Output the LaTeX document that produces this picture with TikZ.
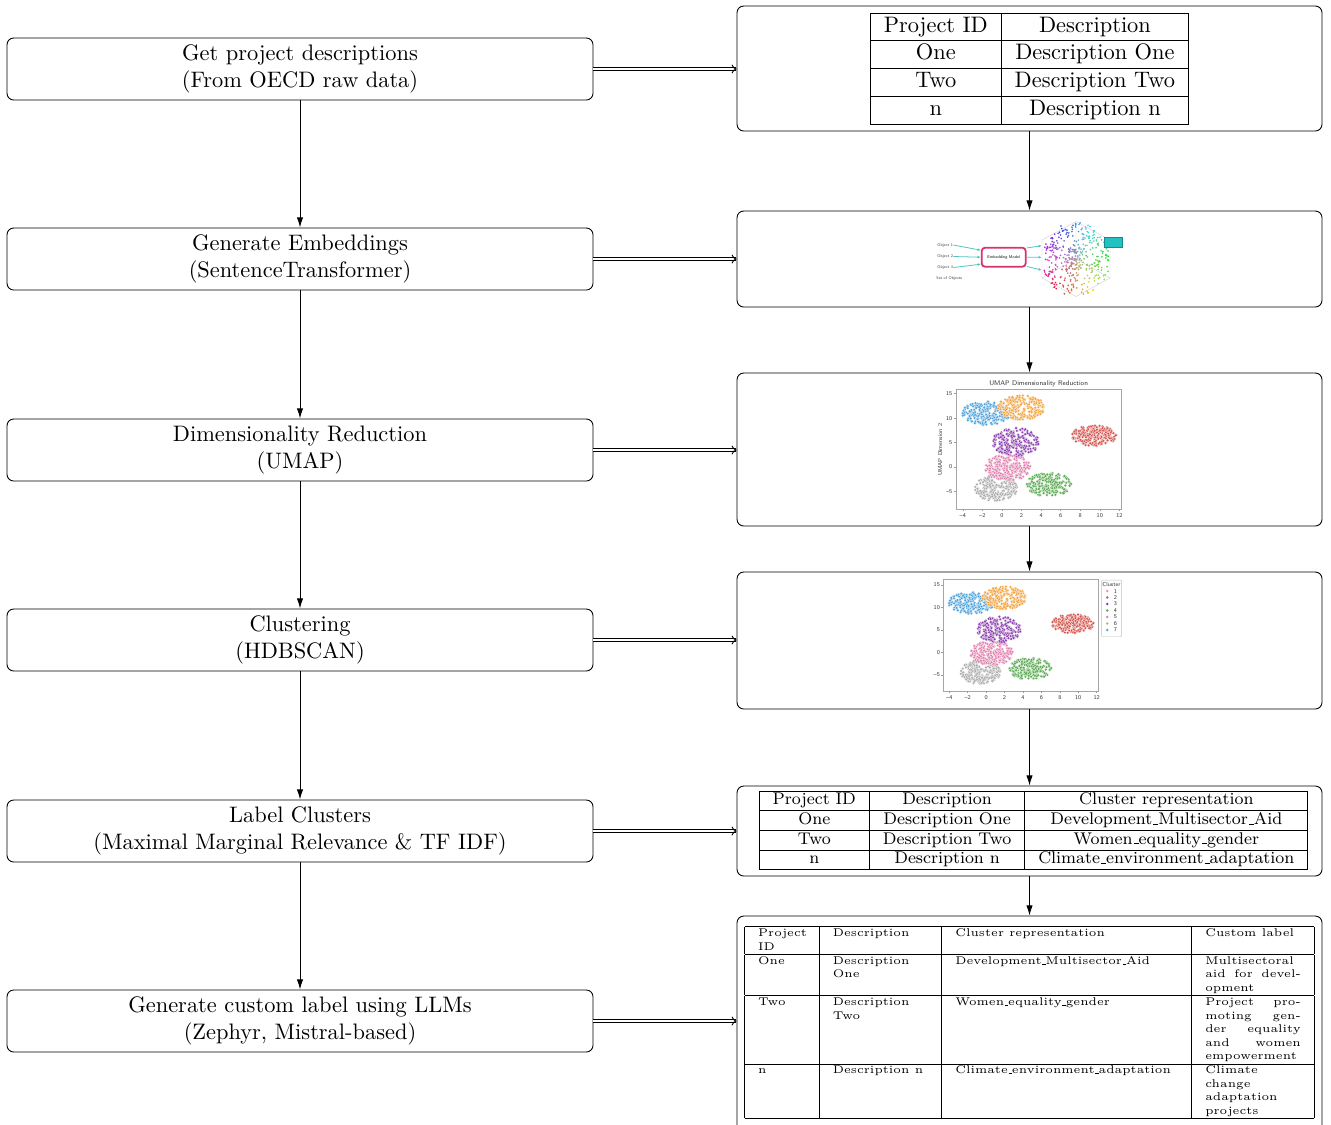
\documentclass[tikz,border=0pt]{standalone}
\usetikzlibrary{arrows.meta}
\newcommand\pxu{0.44643pt}
\newcommand\undsc{\leavevmode\kern.06em\vbox{\hrule width.3em}}
\definecolor{cblue}{HTML}{4EA3DC}
\definecolor{corange}{HTML}{F2A23C}
\definecolor{cred}{HTML}{D5534C}
\definecolor{cpurple}{HTML}{8C3FAF}
\definecolor{cpink}{HTML}{E27FAE}
\definecolor{cgray}{HTML}{ABABAB}
\definecolor{cgreen}{HTML}{5BAA52}
\definecolor{tealline}{HTML}{4DC4C4}
\definecolor{tealbox}{HTML}{22C2C2}
\definecolor{embpink}{HTML}{D8336E}
\newcommand\blob[6]{%
  \foreach \k in {1,...,#6}{%
    \pgfmathsetmacro\myrad{sqrt(rnd)}%
    \pgfmathsetmacro\myang{360*rnd}%
    \filldraw[fill=#1,draw=white,line width=0.06pt] ({#2+#4*\myrad*cos(\myang)},{#3+#5*\myrad*sin(\myang)}) circle[radius=0.68pt];
  }}
\newcommand\umapdots{%
  \pgfmathsetseed{4242}%
  \blob{cgray}{-0.6}{-4.3}{2.2}{2.7}{230}%
  \blob{cgreen}{4.8}{-3.6}{2.3}{2.4}{210}%
  \blob{cpink}{0.6}{-0.1}{2.4}{2.7}{240}%
  \blob{cpurple}{1.4}{5.1}{2.4}{2.9}{230}%
  \blob{cblue}{-1.6}{11.0}{2.5}{2.4}{240}%
  \blob{corange}{2.0}{12.2}{2.4}{2.5}{230}%
  \blob{cred}{9.4}{6.4}{2.3}{2.1}{230}%
}
\tikzset{
  leftbox/.style={draw, rounded corners=3pt, minimum width=586*\pxu, minimum height=62*\pxu, align=center, inner sep=0pt},
  rightbox/.style={draw, rounded corners=3pt, minimum width=585*\pxu, inner sep=0pt},
  flow/.style={-{Latex[length=4.5pt,width=2.8pt]}},
  dblarrow/.style={double, double distance=1pt, -{To[length=2.2pt,width=4pt]}},
  tick/.style={font=\fontsize{2.6}{3}\selectfont\sffamily, inner sep=0.3pt, text=black!80},
  tinylbl/.style={font=\fontsize{1.8}{2.1}\selectfont\sffamily, inner sep=0pt, text=black!75},
  plotframe/.style={draw=gray!70, line width=0.3pt},
  tickmark/.style={draw=gray!80, line width=0.2pt}
}
\begin{document}
\begin{tikzpicture}[x=0.44643pt,y=-0.44643pt]
\useasboundingbox (0,0) rectangle (1331,1124);

% left column
\node[leftbox] (l1) at (300,69) {Get project descriptions\\(From OECD raw data)};
\node[leftbox] (l2) at (300,259) {Generate Embeddings\\(SentenceTransformer)};
\node[leftbox] (l3) at (300,450) {Dimensionality Reduction\\(UMAP)};
\node[leftbox] (l4) at (300,640) {Clustering\\(HDBSCAN)};
\node[leftbox] (l5) at (300,831) {Label Clusters\\(Maximal Marginal Relevance \& TF IDF)};
\node[leftbox] (l6) at (300,1021) {Generate custom label using LLMs\\(Zephyr, Mistral-based)};

% right column boxes
\node[rightbox, minimum height=125*\pxu] (r1) at (1029.5,68.5) {};
\node[rightbox, minimum height=96*\pxu] (r2) at (1029.5,259) {};
\node[rightbox, minimum height=153*\pxu] (r3) at (1029.5,449.5) {};
\node[rightbox, minimum height=137*\pxu] (r4) at (1029.5,640.5) {};
\node[rightbox, minimum height=90*\pxu] (r5) at (1029.5,831) {};
\node[rightbox, minimum height=219*\pxu] (r6) at (1029.5,1025.5) {};

% connectors
\draw[flow] (l1) -- (l2);
\draw[flow] (l2) -- (l3);
\draw[flow] (l3) -- (l4);
\draw[flow] (l4) -- (l5);
\draw[flow] (l5) -- (l6);
\draw[flow] (r1.south) -- (r2.north);
\draw[flow] (r2.south) -- (r3.north);
\draw[flow] (r3.south) -- (r4.north);
\draw[flow] (r4.south) -- (r5.north);
\draw[flow] (r5.south) -- (r6.north);
\draw[dblarrow] (l1.east) -- (l1.east -| r1.west);
\draw[dblarrow] (l2.east) -- (l2.east -| r2.west);
\draw[dblarrow] (l3.east) -- (l3.east -| r3.west);
\draw[dblarrow] (l4.east) -- (l4.east -| r4.west);
\draw[dblarrow] (l5.east) -- (l5.east -| r5.west);
\draw[dblarrow] (l6.east) -- (l6.east -| r6.west);

% table 1
\node[inner sep=0pt] (t1) at (r1.center) {\begin{tabular}{|c|c|}\hline
Project ID & Description\\\hline
One & Description One\\\hline
Two & Description Two\\\hline
n & Description n\\\hline
\end{tabular}};

% table 2
\node[inner sep=0pt, font=\fontsize{7.55}{9}\selectfont] (t2) at (1033.5,830.5) {\renewcommand{\arraystretch}{0.93}\begin{tabular}{|c|c|c|}\hline
Project ID & Description & Cluster representation\\\hline
One & Description One & Development\undsc Multisector\undsc Aid\\\hline
Two & Description Two & Women\undsc equality\undsc gender\\\hline
n & Description n & Climate\undsc environment\undsc adaptation\\\hline
\end{tabular}};

% table 3
\node[inner sep=0pt, anchor=north, font=\tiny] (t3) at (1029.5,926) {\begin{tabular}{|p{0.75cm}|p{1.5cm}|p{3.5cm}|p{1.5cm}|}\hline
Project ID & Description & Cluster representation & Custom label\\\hline
One & Description One & Development\undsc Multisector\undsc Aid & Multisectoral aid for devel-\linebreak opment\\\hline
Two & Description Two & Women\undsc equality\undsc gender & Project pro-\linebreak moting gen-\linebreak der equality\linebreak and women\linebreak empowerment\\\hline
n & Description n & Climate\undsc environment\undsc adaptation & Climate\newline change\newline adaptation\newline projects\\\hline
\end{tabular}};

% ---- embedding illustration (r2)
\node[tinylbl, anchor=west] (ob1) at (937,245) {Object 1};
\node[tinylbl, anchor=west] (ob2) at (937,256.5) {Object 2};
\node[tinylbl, anchor=west] (ob3) at (937,267.5) {Object 3};
\node[tinylbl, anchor=west] (obs) at (936,278) {Set of Objects};
\node[draw=embpink, line width=0.8pt, rounded corners=1.5pt, minimum width=44*\pxu, minimum height=19*\pxu, inner sep=0pt, font=\fontsize{1.8}{2.1}\selectfont\sffamily] (emb) at (1003.7,257.2) {Embedding Model};
\draw[tealline, line width=0.35pt, -{Latex[length=1.4pt,width=1.2pt]}] (ob1.east) -- (emb.163);
\draw[tealline, line width=0.35pt, -{Latex[length=1.4pt,width=1.2pt]}] (ob2.east) -- (emb.west);
\draw[tealline, line width=0.35pt, -{Latex[length=1.4pt,width=1.2pt]}] (ob3.east) -- (emb.197);
\coordinate (e1) at (1041.7,245.7);
\coordinate (e2) at (1041.7,257.3);
\coordinate (e3) at (1041.7,270);
\draw[tealline, line width=0.35pt, -{Latex[length=1.4pt,width=1.2pt]}] (emb.22) -- (e1);
\draw[tealline, line width=0.35pt, -{Latex[length=1.4pt,width=1.2pt]}] (emb.east) -- (e2);
\draw[tealline, line width=0.35pt, -{Latex[length=1.4pt,width=1.2pt]}] (emb.-22) -- (e3);
\draw[gray!35, line width=0.2pt] (1076,221.5) -- (1110,240) -- (1110,278) -- (1076,296.5) -- (1042,278) -- (1042,240) -- cycle;
\draw[gray!35, line width=0.2pt] (1076,259) -- (1076,221.5) (1076,259) -- (1042,278) (1076,259) -- (1110,278);
\pgfmathsetseed{77}
\foreach \k in {1,...,380}{%
  \pgfmathsetmacro\myrad{rnd^0.65}%
  \pgfmathsetmacro\myang{360*rnd}%
  \pgfmathsetmacro\myhue{mod(0.33+\myang/360,1)}%
  \pgfmathsetmacro\mysat{0.2+0.65*\myrad}%
  \pgfmathsetmacro\mybri{0.7+0.2*\myrad}%
  \definecolor{ptc}{hsb}{\myhue,\mysat,\mybri}%
  \fill[ptc] ({1076+34*\myrad*cos(\myang)},{259-37*\myrad*sin(\myang)}) circle[radius=0.42pt];
}
\node[fill=tealbox, draw=tealbox!70!black, line width=0.1pt, minimum width=18*\pxu, minimum height=10.5*\pxu, inner sep=0pt] (tb) at (1113.2,242) {};

% ---- UMAP plot (r3)
\begin{scope}[shift={(1001.9,466.9)}, x=4.3705pt, y=2.1786pt]
  \umapdots
  \draw[plotframe] (-4.7,-8.6) rectangle (12.2,15.8);
  \foreach \t/\s in {-4/\textendash4,-2/\textendash2,0/0,2/2,4/4,6/6,8/8,10/10,12/12}{%
    \draw[tickmark] (\t,-8.6) -- (\t,-9.0);
    \node[tick] (ax\t) at (\t,-9.9) {\s};}
  \foreach \t/\s in {-5/\textendash5,0/0,5/5,10/10,15/15}{%
    \draw[tickmark] (-4.7,\t) -- (-4.9,\t);
    \node[tick, anchor=east] (ay\t) at (-4.95,\t) {\s};}
  \node[tick, font=\fontsize{3}{3.5}\selectfont\sffamily] (ttl) at (3.75,17.0) {UMAP Dimensionality Reduction};
  \node[tick, rotate=90] (ylab) at (-6.3,3.5) {UMAP Dimension 2};
\end{scope}

% ---- clustered plot (r4)
\begin{scope}[shift={(986.1,652.5)}, x=4.1116pt, y=2.0089pt]
  \umapdots
  \draw[plotframe] (-4.65,-8.56) rectangle (12.18,16.3);
  \foreach \t/\s in {-4/\textendash4,-2/\textendash2,0/0,2/2,4/4,6/6,8/8,10/10,12/12}{%
    \draw[tickmark] (\t,-8.56) -- (\t,-9.0);
    \node[tick] (bx\t) at (\t,-10.0) {\s};}
  \foreach \t/\s in {-5/\textendash5,0/0,5/5,10/10,15/15}{%
    \draw[tickmark] (-4.65,\t) -- (-4.85,\t);
    \node[tick, anchor=east] (by\t) at (-4.9,\t) {\s};}
  \draw[gray!50, line width=0.2pt, rounded corners=0.4pt] (12.55,16.1) rectangle (14.72,3.5);
  \node[tick] (lgt) at (13.6,15.1) {Cluster};
  \foreach \i/\c in {1/cred!60, 2/cred, 3/cpurple, 4/cgreen, 5/cpink, 6/corange, 7/cblue}{%
    \fill[\c] (13.15,{15.1-1.44*\i}) circle[radius=0.6pt];
    \node[tick, anchor=west] (lg\i) at (13.75,{15.1-1.44*\i}) {\i};}
\end{scope}
\end{tikzpicture}
\end{document}
